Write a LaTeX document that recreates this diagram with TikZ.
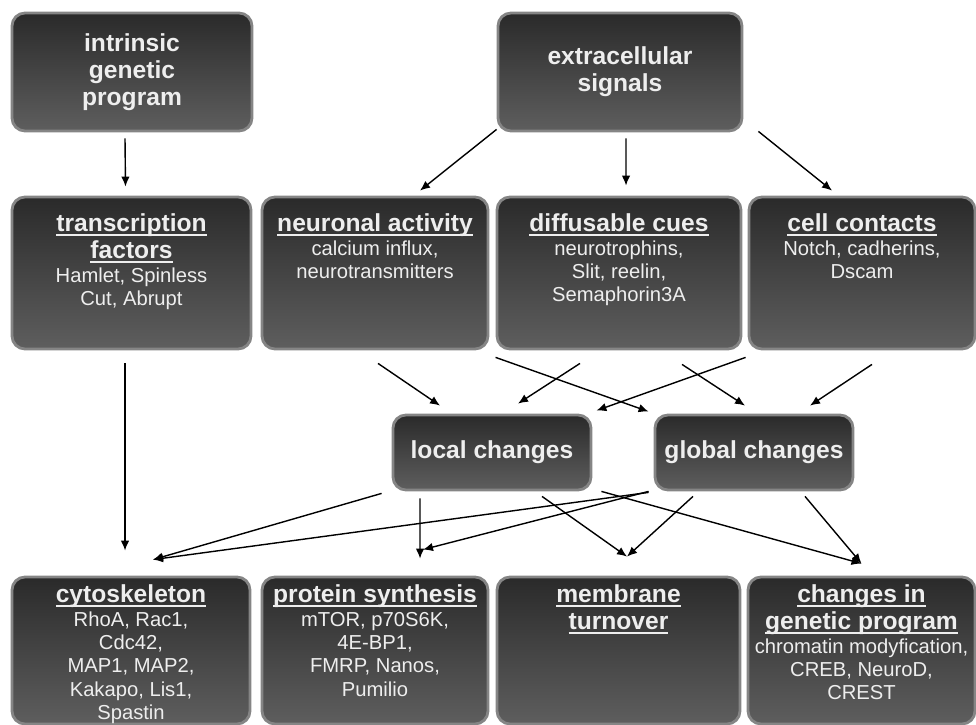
\documentclass[tikz,border=0pt]{standalone}
\usepackage{fontspec}
\setmainfont{Liberation Sans}
\usepackage{tikz}
\usetikzlibrary{arrows.meta}

\definecolor{cardtop}{HTML}{2A2A2A}
\definecolor{cardbottom}{HTML}{5E5E5E}
\definecolor{cardrim}{HTML}{858585}
\definecolor{cardink}{HTML}{EEEEEE}

\newcommand{\headfont}{\fontsize{14}{15.3}\selectfont\bfseries}
\newcommand{\listfont}{\fontsize{11.5}{13.3}\selectfont\mdseries}
\newcommand{\ulined}[1]{\leavevmode\setbox0\hbox{#1}\rlap{\rule[-2.2pt]{\wd0}{0.9pt}}\box0}
\newcommand{\cardbody}[2]{\parbox[c][#1][t]{4.4cm}{\centering #2}}

\begin{document}
\begin{tikzpicture}[
    card/.style={draw=cardrim, line width=1.6pt, rounded corners=0.26cm,
      top color=cardtop, bottom color=cardbottom, text=cardink,
      inner sep=0pt, align=center, font=\headfont},
    arr/.style={-{Latex[length=2mm,width=1.7mm]}, line width=0.8pt}
  ]
    \useasboundingbox (0,0) rectangle (19.52,-14.5);

        % Sources
        \node[card, minimum width=4.8cm, minimum height=2.36cm] (intrinsic) at (2.64,-1.44) {intrinsic\\genetic\\program};
        \node[card, minimum width=4.88cm, minimum height=2.36cm] (extracellular) at (12.4,-1.44) {extracellular\\signals};

        % Second row
        \node[card, minimum width=4.78cm, minimum height=3.04cm] (transcription) at (2.63,-5.46) {\cardbody{2.36cm}{{\ulined{transcription}\\ \ulined{factors}\par}\listfont Hamlet, Spinless\\ Cut, Abrupt}};
        \node[card, minimum width=4.52cm, minimum height=3.04cm] (neuronal) at (7.5,-5.46) {\cardbody{2.36cm}{{\ulined{neuronal activity}\par}\listfont calcium influx,\\ neurotransmitters}};
        \node[card, minimum width=4.88cm, minimum height=3.04cm] (diffusable) at (12.38,-5.46) {\cardbody{2.36cm}{{\ulined{diffusable cues}\par}\listfont neurotrophins,\\ Slit, reelin,\\ Semaphorin3A}};
        \node[card, minimum width=4.52cm, minimum height=3.04cm] (contacts) at (17.24,-5.46) {\cardbody{2.36cm}{{\ulined{cell contacts}\par}\listfont Notch, cadherins,\\ Dscam}};

        % Changes
        \node[card, minimum width=3.96cm, minimum height=1.5cm] (local) at (9.84,-9.05) {local changes};
        \node[card, minimum width=3.96cm, minimum height=1.5cm] (global) at (15.08,-9.05) {global changes};

        % Targets
        \node[card, minimum width=4.76cm, minimum height=2.94cm] (cytoskeleton) at (2.62,-13.01) {\cardbody{2.62cm}{{\ulined{cytoskeleton}\par}\listfont RhoA, Rac1,\\ Cdc42,\\ MAP1, MAP2,\\ Kakapo, Lis1,\\ Spastin}};
        \node[card, minimum width=4.52cm, minimum height=2.94cm] (protein) at (7.5,-13.01) {\cardbody{2.62cm}{{\ulined{protein synthesis}\par}\listfont mTOR, p70S6K,\\ 4E-BP1,\\ FMRP, Nanos,\\ Pumilio}};
        \node[card, minimum width=4.86cm, minimum height=2.94cm] (membrane) at (12.37,-13.01) {\cardbody{2.62cm}{{\ulined{membrane}\\ \ulined{turnover}\par}}};
        \node[card, minimum width=4.54cm, minimum height=2.94cm] (changes) at (17.23,-13.01) {\cardbody{2.62cm}{{\ulined{changes in}\\ \ulined{genetic program}\par}\listfont chromatin modyfication,\\ CREB, NeuroD,\\ CREST}};

        % Upper arrows
        \draw[arr] ([xshift=-0.14cm,yshift=-0.12cm]intrinsic.south) -- ([xshift=-0.12cm,yshift=0.18cm]transcription.north);
        \draw[arr] ([yshift=0.06cm]extracellular.south west) -- ([xshift=0.9cm,yshift=0.1cm]neuronal.north);
        \draw[arr] ([xshift=0.12cm,yshift=-0.12cm]extracellular.south) -- ([xshift=0.14cm,yshift=0.2cm]diffusable.north);
        \draw[arr] ([xshift=0.3cm,yshift=0.02cm]extracellular.south east) -- ([xshift=-0.6cm,yshift=0.1cm]contacts.north);
        \draw[arr] ([xshift=-0.13cm,yshift=-0.26cm]transcription.south) -- ([xshift=-0.12cm,yshift=0.5cm]cytoskeleton.north);

        % Into local and global changes
        \draw[arr] ([xshift=0.06cm,yshift=-0.26cm]neuronal.south) -- ([xshift=-1.04cm,yshift=0.16cm]local.north);
        \draw[arr] ([xshift=-0.78cm,yshift=-0.26cm]diffusable.south) -- ([xshift=0.52cm,yshift=0.2cm]local.north);
        \draw[arr] ([yshift=-0.14cm]diffusable.south west) -- ([xshift=-0.1cm,yshift=0.04cm]global.north west);
        \draw[arr] ([xshift=-0.04cm,yshift=-0.14cm]contacts.south west) -- ([xshift=0.08cm,yshift=0.06cm]local.north east);
        \draw[arr] ([xshift=1.26cm,yshift=-0.28cm]diffusable.south) -- ([xshift=-0.18cm,yshift=0.16cm]global.north);
        \draw[arr] ([xshift=0.2cm,yshift=-0.28cm]contacts.south) -- ([xshift=1.12cm,yshift=0.16cm]global.north);

        % Out of local and global changes
        \draw[arr] ([xshift=-0.2cm,yshift=-0.04cm]local.south west) -- ([xshift=0.44cm,yshift=0.32cm]cytoskeleton.north);
        \draw[arr] ([xshift=-0.1cm,yshift=-0.02cm]global.south west) -- ([xshift=0.44cm,yshift=0.32cm]cytoskeleton.north);
        \draw[arr] ([xshift=-1.44cm,yshift=-0.14cm]local.south) -- ([xshift=0.9cm,yshift=0.34cm]protein.north);
        \draw[arr] ([xshift=-0.1cm]global.south west) -- ([xshift=0.96cm,yshift=0.52cm]protein.north);
        \draw[arr] ([xshift=1.0cm,yshift=-0.1cm]local.south) -- ([xshift=0.17cm,yshift=0.38cm]membrane.north);
        \draw[arr] ([xshift=-1.22cm,yshift=-0.1cm]global.south) -- ([xshift=0.17cm,yshift=0.38cm]membrane.north);
        \draw[arr] ([xshift=0.18cm]local.south east) -- ([yshift=0.24cm]changes.north);
        \draw[arr] ([xshift=1.02cm,yshift=-0.1cm]global.south) -- ([yshift=0.24cm]changes.north);

    \end{tikzpicture}
\end{document}
